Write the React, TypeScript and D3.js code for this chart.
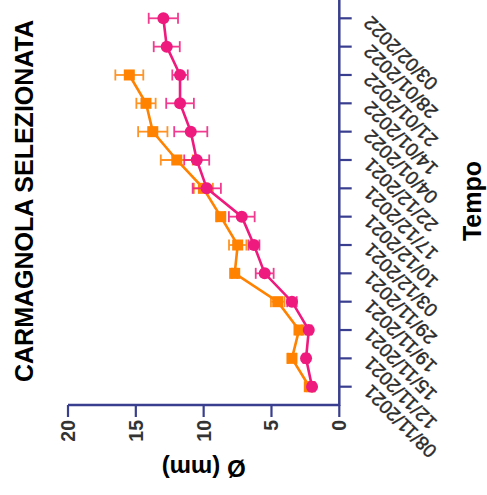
import React from "react";
import * as d3 from "d3";

const dates = [
  "08/11/2021", "12/11/2021", "15/11/2021", "19/11/2021", "29/11/2021",
  "03/12/2021", "10/12/2021", "17/12/2021", "22/12/2021", "04/01/2022",
  "14/01/2022", "21/01/2022", "28/01/2022", "03/02/2022",
];
const pinkValues = [2.01, 2.45, 2.25, 3.49, 5.5, 6.29, 7.19, 9.77, 10.51, 10.95, 11.74, 11.74, 12.72, 12.97];
const pinkErrors = [0.2, 0.2, 0.2, 0.35, 0.66, 0.4, 0.95, 1.04, 0.92, 1.22, 1.02, 0.57, 0.96, 1.08];
const orangeValues: (number | null)[] = [2.21, 3.49, 2.97, 4.54, 7.71, 7.49, 8.74, 10.02, 11.98, 13.75, 14.25, 15.48, null, null];
const orangeErrors: (number | null)[] = [0.2, 0.3, 0.2, 0.5, 0.2, 0.64, 0.3, 0.7, 1.18, 1.08, 0.71, 1.03, null, null];
const yTicks = [0, 5, 10, 15, 20];

const title = "CARMAGNOLA SELEZIONATA";
const xTitle = "Tempo";
const yTitle = "Ø (mm)";

const PINK = "#EE1A7E";
const ORANGE = "#FF8200";
const AXIS = "#393E8E";
const FONT = "'Liberation Sans', Arial, Helvetica, sans-serif";

export default function App() {
  const W = 495; // original width (screen height)
  const H = 487; // original height (screen width)
  const x = d3.scalePoint<string>().domain(dates).range([108.3, 476.7]);
  const y = d3.scaleLinear().domain([0, 20]).range([339.3, 68]);
  const axisY = 339.3;
  const axisX = 90;

  type P = { d: string; v: number; e: number };
  const pink: P[] = dates.map((d, i) => ({ d, v: pinkValues[i], e: pinkErrors[i] }));
  const orange: P[] = dates
    .map((d, i) => ({ d, v: orangeValues[i] as number, e: (orangeErrors[i] ?? 0) as number }))
    .filter((p, i) => orangeValues[i] != null);

  const line = d3
    .line<P>()
    .x((p) => x(p.d)!)
    .y((p) => y(p.v));

  const errBars = (data: P[], color: string) =>
    data.map((p, i) => {
      const cx = x(p.d)!;
      const y1 = y(p.v - p.e);
      const y2 = y(p.v + p.e);
      return (
        <g key={i} stroke={color} strokeWidth={1.8} opacity={0.85}>
          <line x1={cx} x2={cx} y1={y1} y2={y2} />
          <line x1={cx - 5.5} x2={cx + 5.5} y1={y1} y2={y1} />
          <line x1={cx - 5.5} x2={cx + 5.5} y1={y2} y2={y2} />
        </g>
      );
    });

  return (
    <svg
      width={H}
      height={W}
      style={{ position: "absolute", left: 0, top: 0, background: "#fff" }}
      fontFamily={FONT}
    >
      <g transform={`translate(0,${W}) rotate(-90)`}>
        {/* title */}
        <text x={294} y={33} textAnchor="middle" fontSize={25} fontWeight="bold" fill="#000">
          {title}
        </text>

        {/* date axis */}
        <line x1={axisX - 1} x2={W + 2} y1={axisY} y2={axisY} stroke={AXIS} strokeWidth={2.5} />
        {dates.map((d) => (
          <g key={d}>
            <line x1={x(d)} x2={x(d)} y1={axisY} y2={351.7} stroke={AXIS} strokeWidth={2.2} />
            <text
              transform={`translate(${x(d)! - 1.5},367) rotate(-45)`}
              textAnchor="end"
              dy="0.35em"
              fontSize={19}
              fill="#2a2a2a"
              stroke="#2a2a2a"
              strokeWidth={0.45}
            >
              {d}
            </text>
          </g>
        ))}
        <text x={294} y={481} textAnchor="middle" fontSize={25} fontWeight="bold" fill="#000">
          {xTitle}
        </text>

        {/* value axis */}
        <line x1={axisX} x2={axisX} y1={y(20)} y2={axisY} stroke={AXIS} strokeWidth={2.5} />
        {yTicks.map((t) => (
          <g key={t}>
            <line x1={axisX} x2={78} y1={y(t)} y2={y(t)} stroke={AXIS} strokeWidth={2.2} />
            <text
              x={75}
              y={y(t)}
              textAnchor="end"
              dominantBaseline="central"
              fontSize={19.5}
              fontWeight="bold"
              fill="#333"
            >
              {t}
            </text>
          </g>
        ))}
        <text
          transform={`translate(35,${y(10)}) rotate(-90)`}
          textAnchor="middle"
          fontSize={24}
          fontWeight="bold"
          fill="#000"
        >
          {yTitle}
        </text>

        {/* orange series */}
        {errBars(orange, ORANGE)}
        <path d={line(orange)!} fill="none" stroke={ORANGE} strokeWidth={2.6} />
        {orange.map((p, i) => (
          <rect key={i} x={x(p.d)! - 5.5} y={y(p.v) - 5.5} width={11} height={11} fill={ORANGE} />
        ))}

        {/* pink series */}
        {errBars(pink, PINK)}
        <path d={line(pink)!} fill="none" stroke={PINK} strokeWidth={2.6} />
        {pink.map((p, i) => (
          <circle key={i} cx={x(p.d)!} cy={y(p.v)} r={6} fill={PINK} />
        ))}
      </g>
    </svg>
  );
}
